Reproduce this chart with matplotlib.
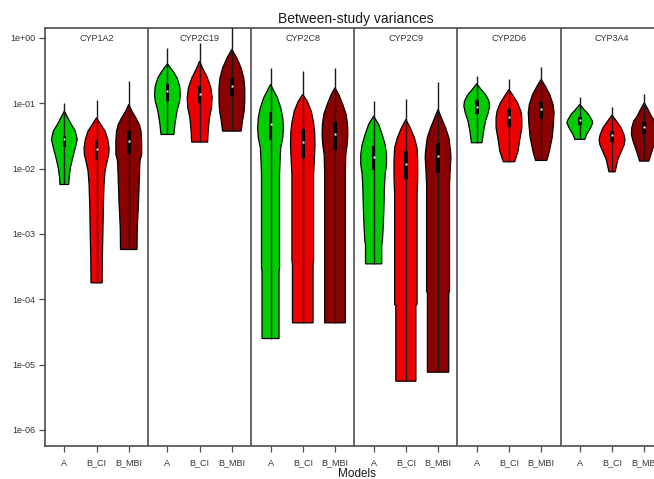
import numpy as np
import matplotlib
matplotlib.use("Agg")
import matplotlib.pyplot as plt
from matplotlib.patches import Rectangle, Polygon

plt.rcParams['font.family'] = ['Liberation Sans', 'DejaVu Sans']

panels = ["CYP1A2", "CYP2C19", "CYP2C8", "CYP2C9", "CYP2D6", "CYP3A4"]
models = ["A", "B_CI", "B_MBI"]
colors = ["#00CD00", "#EE0000", "#8B0000"]
ytick_labels = ["1e-06", "1e-05", "1e-04", "1e-03", "1e-02", "1e-01", "1e+00"]

# violin outlines: log10(variance) levels from top tip to bottom, with relative density width
cyp1a2_log = [[-1.119, -1.195, -1.323, -1.425, -1.552, -1.680, -1.833, -1.986, -2.140, -2.242],
              [-1.221, -1.323, -1.425, -1.552, -1.680, -1.782, -1.884, -2.037, -2.242, -2.548, -2.905, -3.365, -3.748],
              [-1.016, -1.119, -1.221, -1.323, -1.425, -1.578, -1.782, -1.884, -2.140, -2.497, -2.905, -3.237]]
cyp1a2_w = [[0, 0.2, 0.54, 0.85, 1.0, 0.85, 0.65, 0.47, 0.37, 0.34],
            [0, 0.33, 0.66, 0.87, 0.97, 0.95, 0.82, 0.66, 0.58, 0.53, 0.5, 0.45, 0.43],
            [0, 0.24, 0.55, 0.82, 0.95, 1.0, 1.0, 0.87, 0.82, 0.76, 0.66, 0.64]]

cyp2c19_log = [[-0.394, -0.506, -0.608, -0.736, -0.863, -0.965, -1.119, -1.323, -1.476],
               [-0.353, -0.455, -0.608, -0.761, -0.914, -1.067, -1.221, -1.425, -1.593],
               [-0.174, -0.302, -0.455, -0.608, -0.761, -0.965, -1.119, -1.272, -1.425]]
cyp2c19_w = [[0, 0.42, 0.74, 0.95, 1.0, 0.95, 0.74, 0.58, 0.5],
             [0, 0.21, 0.6, 0.87, 0.97, 0.92, 0.76, 0.66, 0.62],
             [0, 0.37, 0.71, 0.92, 1.0, 1.0, 0.95, 0.82, 0.72]]

cyp2c8_log = [[-0.710, -0.812, -0.914, -1.067, -1.221, -1.374, -1.527, -1.680, -1.884, -2.088, -3.518, -3.569, -4.600],
              [-0.863, -0.965, -1.119, -1.272, -1.425, -1.629, -1.782, -1.986, -2.088, -3.416, -3.467, -4.360],
              [-0.761, -0.863, -1.016, -1.170, -1.323, -1.476, -1.629, -1.782, -2.088, -3.416, -4.360]]
cyp2c8_w = [[0, 0.26, 0.53, 0.79, 0.95, 1.0, 0.95, 0.79, 0.74, 0.7, 0.7, 0.66, 0.66],
            [0, 0.34, 0.66, 0.82, 0.92, 0.95, 0.92, 0.87, 0.84, 0.84, 0.8, 0.8],
            [0, 0.29, 0.6, 0.87, 0.97, 1.0, 0.95, 0.84, 0.8, 0.8, 0.8]]

cyp2c9_log = [[-1.195, -1.323, -1.476, -1.629, -1.782, -1.935, -2.088, -2.293, -2.650, -2.905, -3.110, -3.161, -3.457],
              [-1.246, -1.374, -1.527, -1.680, -1.884, -2.140, -2.395, -4.080, -4.090, -5.253],
              [-1.093, -1.221, -1.374, -1.527, -1.731, -1.833, -1.986, -2.242, -3.880, -3.900, -5.115]]
cyp2c9_w = [[0, 0.39, 0.66, 0.89, 1.0, 1.0, 0.89, 0.84, 0.79, 0.74, 0.68, 0.63, 0.63],
            [0, 0.34, 0.66, 0.87, 0.92, 0.92, 0.87, 0.87, 0.78, 0.78],
            [0, 0.26, 0.58, 0.84, 0.97, 1.0, 0.95, 0.89, 0.89, 0.83, 0.83]]

cyp2d6_log = [[-0.700, -0.787, -0.863, -0.965, -1.042, -1.144, -1.272, -1.425, -1.603],
              [-0.787, -0.889, -0.991, -1.119, -1.221, -1.374, -1.578, -1.731, -1.894],
              [-0.634, -0.736, -0.863, -1.016, -1.144, -1.323, -1.527, -1.731, -1.874]]
cyp2d6_w = [[0, 0.34, 0.68, 0.95, 1.0, 0.89, 0.68, 0.53, 0.41],
            [0, 0.34, 0.66, 0.92, 1.0, 1.0, 0.82, 0.71, 0.44],
            [0, 0.32, 0.66, 0.92, 1.0, 0.95, 0.85, 0.64, 0.44]]

cyp3a4_log = [[-1.016, -1.093, -1.170, -1.261, -1.297, -1.374, -1.476, -1.552],
              [-1.180, -1.272, -1.374, -1.476, -1.552, -1.629, -1.731, -1.859, -2.048],
              [-0.991, -1.093, -1.195, -1.272, -1.374, -1.476, -1.578, -1.731, -1.884]]
cyp3a4_w = [[0, 0.32, 0.68, 0.95, 1.0, 0.84, 0.53, 0.38],
            [0, 0.34, 0.7, 0.92, 1.0, 0.95, 0.73, 0.45, 0.24],
            [0, 0.29, 0.55, 0.82, 0.97, 1.0, 0.87, 0.6, 0.36]]

violin_logs = [cyp1a2_log, cyp2c19_log, cyp2c8_log, cyp2c9_log, cyp2d6_log, cyp3a4_log]
violin_ws = [cyp1a2_w, cyp2c19_w, cyp2c8_w, cyp2c9_w, cyp2d6_w, cyp3a4_w]

# box statistics (log10 variance), per panel: [A, B_CI, B_MBI]
box_q1 = [[-1.670, -1.869, -1.772], [-0.965, -0.991, -0.889], [-1.568, -1.844, -1.721],
          [-2.027, -2.165, -2.063], [-1.159, -1.358, -1.246], [-1.333, -1.588, -1.466]]
box_med = [[-1.552, -1.706, -1.578], [-0.812, -0.853, -0.736], [-1.323, -1.593, -1.476],
           [-1.818, -1.925, -1.803], [-1.052, -1.210, -1.093], [-1.261, -1.491, -1.364]]
box_q3 = [[-1.501, -1.568, -1.425], [-0.710, -0.736, -0.608], [-1.129, -1.399, -1.282],
          [-1.655, -1.731, -1.604], [-0.955, -1.093, -0.976], [-1.211, -1.425, -1.287]]
whisker_hi = [[-0.996, -0.945, -0.659], [-0.159, -0.072, 0.25], [-0.455, -0.506, -0.455],
              [-0.965, -0.930, -0.669], [-0.583, -0.634, -0.445], [-0.904, -1.057, -0.853]]

W, H = 654, 479
fig = plt.figure(figsize=(W / 100, H / 100), dpi=100)
left, right, top, bottom = 45, 663.6, 28, 446
ax = fig.add_axes([left / W, 1 - bottom / H, (right - left) / W, (bottom - top) / H])
ax.set_yscale('log')
ax.set_xlim(0, 3.2 * len(panels))
ax.set_ylim(10 ** -6.245, 10 ** 0.153)

half = 0.4
boxw = 0.055
frame_col = "#4d4d4d"
for p, name in enumerate(panels):
    base = 3.2 * p
    for i, m in enumerate(models):
        cx = base + 0.6 + i
        lv = np.array(violin_logs[p][i])
        wv = np.array(violin_ws[p][i]) * half
        ys = 10 ** lv
        xs = np.concatenate([cx - wv, (cx + wv)[::-1]])
        yy = np.concatenate([ys, ys[::-1]])
        ax.add_patch(Polygon(np.column_stack([xs, yy]), closed=True,
                             facecolor=colors[i], edgecolor='black', lw=0.9, zorder=2))
        ax.plot([cx, cx], [10 ** lv[-1], 10 ** whisker_hi[p][i]], color='#1a1a1a', lw=1.0,
                zorder=3, solid_capstyle='butt')
        ax.add_patch(Rectangle((cx - boxw, 10 ** box_q1[p][i]), 2 * boxw,
                               10 ** box_q3[p][i] - 10 ** box_q1[p][i],
                               facecolor='black', edgecolor='none', zorder=4))
        ax.plot([cx], [10 ** box_med[p][i]], marker='s', ms=2.0, color='white',
                mec='none', zorder=5)
    if p > 0:
        ax.axvline(base, color=frame_col, lw=1.2, zorder=6)
    ax.text(base + 1.6, 0.9737, name, transform=ax.get_xaxis_transform(),
            ha='center', va='center', fontsize=6.5, color='#333333')

xt = [3.2 * p + 0.6 + i for p in range(len(panels)) for i in range(len(models))]
ax.set_xticks(xt)
ax.set_xticklabels(models * len(panels), fontsize=6.5, color='#333333')
yt = [10.0 ** k for k in range(-6, 1)]
ax.set_yticks(yt)
ax.set_yticklabels(ytick_labels, fontsize=6.5, color='#333333')
ax.yaxis.set_minor_locator(matplotlib.ticker.NullLocator())
ax.tick_params(axis='both', length=4, width=0.9, color=frame_col, direction='out')
ax.tick_params(axis='x', pad=5)
ax.tick_params(axis='y', pad=3)
for s in ax.spines.values():
    s.set_color(frame_col)
    s.set_linewidth(1.2)

fig.text(356 / W, 1 - 19 / H, "Between-study variances", ha='center', va='center',
         fontsize=10, color='#1a1a1a')
fig.text(357 / W, 1 - 474 / H, "Models", ha='center', va='center',
         fontsize=8.5, color='#1a1a1a')

fig.savefig("out.png", dpi=100)
